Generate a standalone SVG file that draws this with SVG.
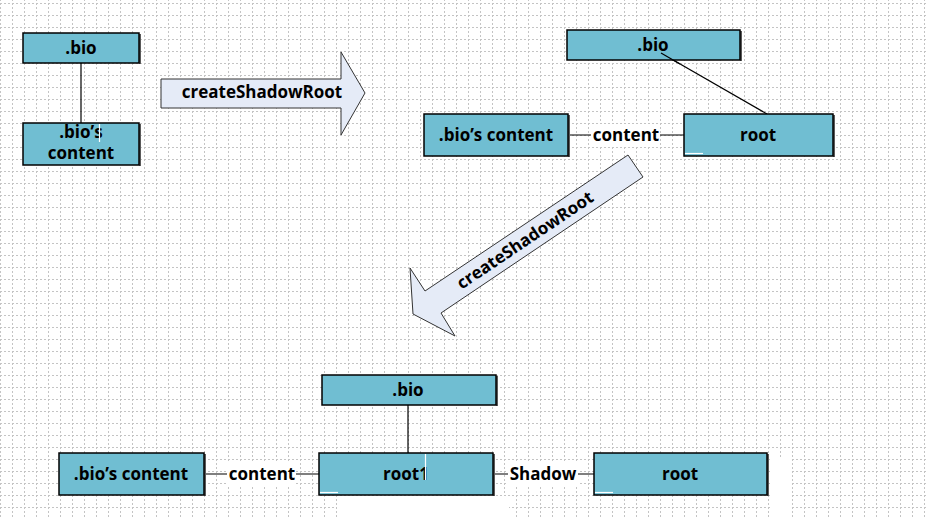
<svg xmlns="http://www.w3.org/2000/svg" width="926" height="517" viewBox="0 0 926 517">
<defs>
<pattern id="grid" patternUnits="userSpaceOnUse" x="0" y="3" width="12" height="12">
<line x1="0.5" y1="0" x2="0.5" y2="12" stroke="#c4c4c4" stroke-width="1" stroke-dasharray="2,2"/>
<line x1="0" y1="0.5" x2="12" y2="0.5" stroke="#c4c4c4" stroke-width="1" stroke-dasharray="2,2"/>
</pattern>
</defs>
<style>
.box{fill:#70bed2;stroke:#000;stroke-width:1.5}
.shadow{stroke:#5a5a5a;stroke-width:2}
.t{font-family:"Open Sans","DejaVu Sans",sans-serif;font-weight:bold;font-size:17px;fill:#000;text-anchor:middle}
.conn{stroke:#000;stroke-width:1.2;fill:none}
.arrow{fill:#e5ebf7;stroke:#333;stroke-width:1}
.lbl{fill:#fff}
.art{stroke:#fff;stroke-width:1.2}
</style>
<rect width="926" height="517" fill="#fff"/>
<rect width="926" height="517" fill="url(#grid)"/>
<rect x="337" y="496" width="172" height="21" fill="#fff"/>
<rect x="770" y="458" width="22" height="59" fill="#fff"/>

<g id="connectors">
<line class="conn" x1="81" y1="63" x2="81" y2="123"/>
<line class="conn" x1="661" y1="53" x2="767" y2="114"/>
<line class="conn" x1="568" y1="135" x2="684" y2="135"/>
<rect class="lbl" x="591" y="124" width="69" height="22"/>
<text class="t" x="626" y="141">content</text>
<line class="conn" x1="408" y1="405" x2="408" y2="453"/>
<line class="conn" x1="204" y1="474" x2="319" y2="474"/>
<rect class="lbl" x="227" y="463" width="69" height="22"/>
<text class="t" x="262" y="480">content</text>
<line class="conn" x1="493" y1="474" x2="594" y2="474"/>
<rect class="lbl" x="508" y="463" width="70" height="22"/>
<text class="t" x="543" y="480">Shadow</text>
</g>

<g id="arrow1">
<polygon class="arrow" points="161,79 341,79 341,52 365,93 341,135 341,108 161,108"/>
<text class="t" x="262" y="98">createShadowRoot</text>
</g>

<g id="arrow2">
<polygon class="arrow" points="628,155 643,177 441,313 455,336 413,314 410,268 425,291"/>
<text class="t" transform="translate(525,240) rotate(-33.9)" x="0" y="6">createShadowRoot</text>
</g>

<g id="n-bio-1">
<line class="shadow" x1="140" y1="34" x2="140" y2="64"/>
<rect class="box" x="23" y="33" width="116" height="30"/>
<text class="t" x="81" y="54">.bio</text>
</g>
<g id="n-content-1">
<line class="shadow" x1="140" y1="124" x2="140" y2="166"/>
<rect class="box" x="23" y="123" width="116" height="42"/>
<text class="t" x="81" y="138">.bio’s</text>
<text class="t" x="81" y="159">content</text>
<line class="art" x1="99.5" y1="124" x2="99.5" y2="142"/>
</g>

<g id="n-bio-2">
<line class="shadow" x1="741" y1="31" x2="741" y2="61"/>
<rect class="box" x="567" y="30" width="173" height="30"/>
<text class="t" x="653" y="51">.bio</text>
<line class="conn" x1="661" y1="53" x2="680" y2="64"/>
</g>
<g id="n-content-2">
<line class="shadow" x1="569" y1="115" x2="569" y2="157"/>
<rect class="box" x="424" y="114" width="144" height="42"/>
<text class="t" x="496" y="141">.bio’s content</text>
</g>
<g id="n-root-2">
<line class="shadow" x1="834" y1="115" x2="834" y2="157"/>
<rect class="box" x="684" y="114" width="149" height="42"/>
<text class="t" x="758" y="141">root</text>
<line class="art" x1="685" y1="153.5" x2="703" y2="153.5"/>
</g>

<g id="n-bio-3">
<line class="shadow" x1="497" y1="376" x2="497" y2="406"/>
<rect class="box" x="322" y="375" width="174" height="30"/>
<text class="t" x="408" y="396">.bio</text>
</g>
<g id="n-content-3">
<line class="shadow" x1="205" y1="454" x2="205" y2="496"/>
<rect class="box" x="59" y="453" width="145" height="42"/>
<text class="t" x="131" y="480">.bio’s content</text>
</g>
<g id="n-root1">
<line class="shadow" x1="494" y1="454" x2="494" y2="496"/>
<rect class="box" x="319" y="453" width="174" height="42"/>
<text class="t" x="406" y="480">root1</text>
<line class="art" x1="320" y1="492.5" x2="338" y2="492.5"/>
<line class="art" x1="425.5" y1="454" x2="425.5" y2="480"/>
</g>
<g id="n-root-3">
<line class="shadow" x1="768" y1="454" x2="768" y2="496"/>
<rect class="box" x="594" y="453" width="173" height="42"/>
<text class="t" x="680" y="480">root</text>
<line class="art" x1="595" y1="492.5" x2="613" y2="492.5"/>
</g>
</svg>
